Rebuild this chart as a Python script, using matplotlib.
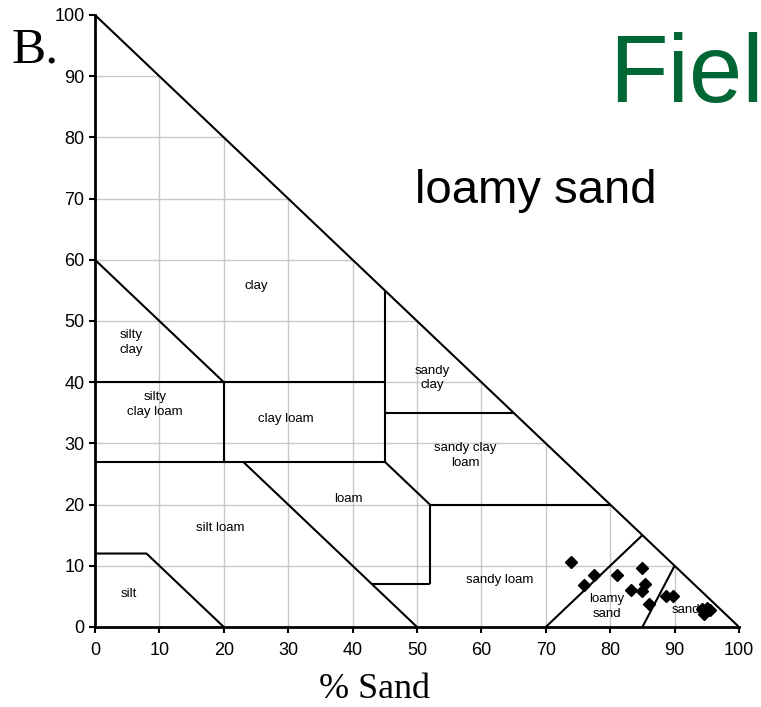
import matplotlib
matplotlib.use("Agg")
import matplotlib.pyplot as plt

# soil texture triangle (x = % sand, y = % clay)
boundaries = [
    [(0, 100), (100, 0)],
    [(0, 60), (20, 40)],
    [(0, 40), (45, 40)],
    [(20, 40), (20, 27)],
    [(45, 55), (45, 27)],
    [(0, 27), (45, 27)],
    [(45, 35), (65, 35)],
    [(45, 27), (52, 20)],
    [(52, 20), (80, 20)],
    [(52, 20), (52, 7)],
    [(43, 7), (52, 7)],
    [(23, 27), (50, 0)],
    [(0, 12), (8, 12), (20, 0)],
    [(70, 0), (85, 15)],
    [(85, 0), (90, 10)],
]

region_names = ["clay", "silty\nclay", "silty\nclay loam", "clay loam", "sandy\nclay",
                "sandy clay\nloam", "loam", "silt loam", "silt", "sandy loam",
                "loamy\nsand", "sand"]
region_x = [25, 5.6, 9.3, 29.7, 52.3, 57.5, 39.3, 19.4, 5.3, 62.9, 79.5, 91.8]
region_y = [55.7, 46.5, 36.3, 34.0, 40.7, 28.0, 20.9, 16.2, 5.4, 7.7, 3.3, 2.8]

# field samples
sand_pct = [73.9, 77.5, 75.9, 81.1, 84.9, 85.4, 85.0, 83.2, 86.1, 88.6, 89.8,
            94.2, 94.8, 95.5, 94.5, 95.0]
clay_pct = [10.6, 8.5, 6.8, 8.5, 9.7, 7.0, 5.9, 6.0, 3.8, 5.0, 5.0,
            3.0, 2.6, 2.8, 2.2, 3.1]

ticks = list(range(0, 101, 10))

fig = plt.figure(figsize=(7.61, 7.07), dpi=100)
ax = fig.add_axes([0.1248, 0.1132, 0.8463, 0.8656])

# grid only inside the triangle
for t in ticks[1:-1]:
    ax.plot([t, t], [0, 100 - t], color="#c8c8c8", lw=1, zorder=1)
    ax.plot([0, 100 - t], [t, t], color="#c8c8c8", lw=1, zorder=1)

for seg in boundaries:
    xs = [p[0] for p in seg]
    ys = [p[1] for p in seg]
    ax.plot(xs, ys, color="black", lw=1.5, zorder=2, solid_capstyle="butt")

for name, x, y in zip(region_names, region_x, region_y):
    ax.text(x, y, name, ha="center", va="center", fontsize=9.5,
            family="Liberation Sans", linespacing=1.3, zorder=3)

ax.plot(sand_pct, clay_pct, "D", color="black", markersize=6, zorder=4)

ax.set_xlim(0, 100)
ax.set_ylim(0, 100)
ax.set_xticks(ticks)
ax.set_yticks(ticks)
ax.tick_params(direction="out", length=4.5, width=1.5, labelsize=13)
ax.tick_params(axis="x", pad=6)
ax.tick_params(axis="y", pad=3)
for lab in ax.get_xticklabels() + ax.get_yticklabels():
    lab.set_family("Liberation Sans")
for s in ["top", "right"]:
    ax.spines[s].set_visible(False)
for s in ["left", "bottom"]:
    ax.spines[s].set_linewidth(2)

fig.text(0.0158, 0.9123, "B.", family="Liberation Serif", fontsize=37, va="baseline")
fig.text(0.800, 0.8557, "Fiel", family="Liberation Sans", fontsize=69,
         color="#006633", va="baseline")
fig.text(0.545, 0.7129, "loamy sand", family="Liberation Sans", fontsize=34, va="baseline")
fig.text(0.4915, 0.0127, "% Sand", family="Liberation Serif", fontsize=26,
         ha="center", va="baseline")

fig.savefig("out.png", dpi=100)
